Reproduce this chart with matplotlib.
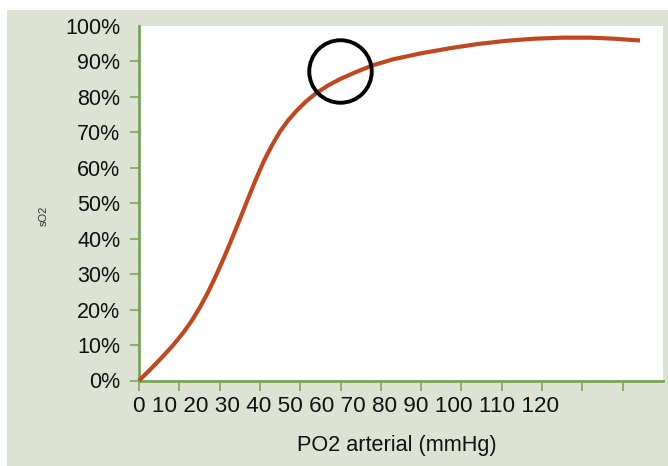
import matplotlib
matplotlib.use("Agg")
import matplotlib.pyplot as plt
from matplotlib.patches import Rectangle

plt.rcParams['font.family'] = ['Liberation Sans', 'DejaVu Sans']

# Oxygen saturation curve (PO2 in mmHg, saturation in %)
po2 = [0, 2, 4, 6, 8.5, 11, 13, 15, 17, 19, 21, 23, 25, 27, 29, 31, 33,
       35, 37, 39, 41.5, 44, 47, 50, 54, 58, 63, 70, 77, 84, 91, 98,
       105, 112, 118, 124.3]
sat = [0, 2.2, 4.5, 6.9, 10, 13.5, 16.7, 20.4, 24.6, 29.3, 34.4, 39.8,
       45.4, 51.1, 56.7, 61.9, 66.3, 70.2, 73.3, 75.9, 78.7, 81.0, 83.2,
       85.0, 87.0, 88.8, 90.5, 92.2, 93.6, 94.8, 95.7, 96.3, 96.6,
       96.6, 96.3, 95.8]

# highlighted point
mark_po2 = [49.9]
mark_sat = [87.3]

x_ticks = [0, 10, 20, 30, 40, 50, 60, 70, 80, 90, 100, 110, 120]
x_tick_text = "0 10 20 30 40 50 60 70 80 90 100 110 120"
y_ticks = [0, 10, 20, 30, 40, 50, 60, 70, 80, 90, 100]
y_tick_labels = [f"{v}%" for v in y_ticks]

BG = "#dde3d3"
GREEN = "#78a55a"
CURVE = "#c1481e"

W, H = 668, 466
fig = plt.figure(figsize=(W / 100, H / 100), dpi=100, facecolor="white")
fig.patches.append(Rectangle((7 / W, 0), 1 - 7 / W, (H - 10) / H,
                             transform=fig.transFigure, facecolor=BG,
                             edgecolor="none", zorder=-10))

ax = fig.add_axes([139 / W, (H - 380.5) / H, (663 - 139) / W, (380.5 - 25.6) / H])
ax.set_facecolor("white")
ax.set_xlim(0, 130)
ax.set_ylim(0, 100)

ax.plot(po2, sat, color=CURVE, lw=3.0, solid_capstyle="butt",
        solid_joinstyle="round", clip_on=False, zorder=3)
ax.plot(mark_po2, mark_sat, marker="o", ms=45, mfc="none", mec="black", mew=2.8,
        ls="none", zorder=4)

for side in ("top", "right"):
    ax.spines[side].set_visible(False)
for side in ("left", "bottom"):
    ax.spines[side].set_color(GREEN)
    ax.spines[side].set_linewidth(2.0)

ax.set_xticks(x_ticks)
ax.set_xticklabels([])
ax.tick_params(axis="x", direction="out", length=7, width=1.2, color=GREEN)

ax.set_yticks(y_ticks)
ax.set_yticklabels(y_tick_labels, fontsize=15.5, color="#111111")
ax.tick_params(axis="y", direction="out", length=6.5, width=1.2, color=GREEN, pad=7)
ax.yaxis.get_major_ticks()[-1].tick1line.set_visible(False)

fig.text(133 / W, (H - 407) / H, x_tick_text, fontsize=16.2, color="#111111",
         ha="left", va="center")
fig.text(397 / W, (H - 446) / H, "PO2 arterial (mmHg)", fontsize=15.6, color="#111111",
         ha="center", va="center")
fig.text(44 / W, (H - 216) / H, "sO2", fontsize=8, color="#333333",
         rotation=90, ha="center", va="center")

fig.savefig("out.png", dpi=100, facecolor=fig.get_facecolor())
